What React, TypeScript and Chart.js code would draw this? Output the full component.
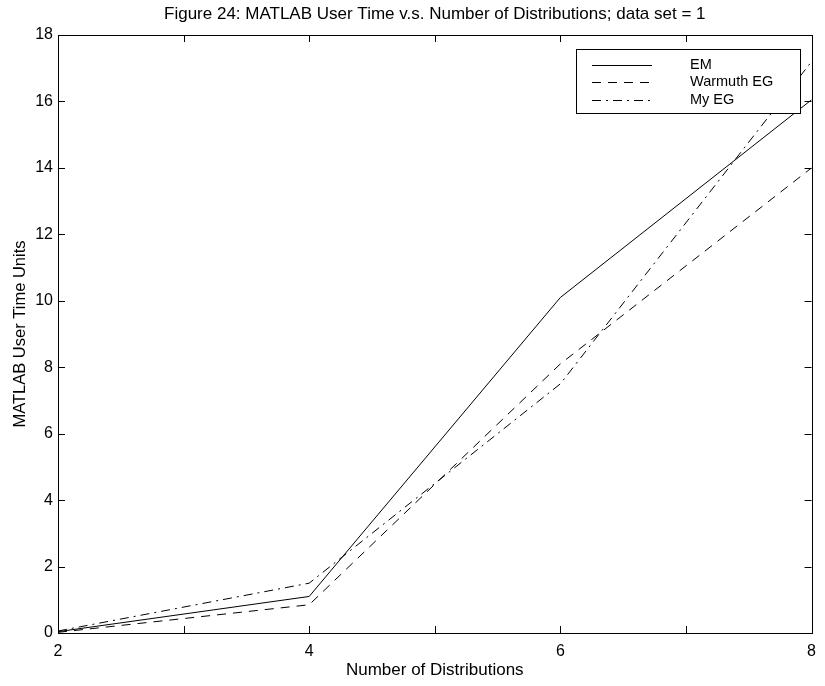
import React, { useEffect, useRef } from "react";
import { Chart, registerables } from "chart.js";

Chart.register(...registerables);

const xValues = [2, 4, 6, 8];
const emValues = [0.04, 1.1, 10.1, 16.05];
const warmuthValues = [0.02, 0.85, 8.1, 14.0];
const myEgValues = [0.06, 1.5, 7.5, 17.2];
const seriesNames = ["EM", "Warmuth EG", "My EG"];
const titleText = "Figure 24: MATLAB User Time v.s. Number of Distributions; data set = 1";
const xTitle = "Number of Distributions";
const yTitle = "MATLAB User Time Units";

const FONT = "'Liberation Sans', Arial, Helvetica, sans-serif";
const dashes = [[], [9, 7], [9, 5, 2, 5]];

const matlabPlugin = {
  id: "matlab",
  afterDraw(chart: any) {
    const ctx = chart.ctx;
    const { left, right, top, bottom } = chart.chartArea;
    const xs = chart.scales.x;
    const ys = chart.scales.y;
    ctx.save();
    ctx.strokeStyle = "#000";
    ctx.lineWidth = 1;
    ctx.setLineDash([]);
    // box
    ctx.strokeRect(Math.round(left) + 0.5, Math.round(top) + 0.5, Math.round(right - left), Math.round(bottom - top));
    const tl = 7;
    ctx.beginPath();
    xs.ticks.forEach((t: any) => {
      const px = Math.round(xs.getPixelForValue(t.value)) + 0.5;
      ctx.moveTo(px, bottom);
      ctx.lineTo(px, bottom - tl);
      ctx.moveTo(px, top);
      ctx.lineTo(px, top + tl);
    });
    ys.ticks.forEach((t: any) => {
      const py = Math.round(ys.getPixelForValue(t.value)) + 0.5;
      ctx.moveTo(left, py);
      ctx.lineTo(left + tl, py);
      ctx.moveTo(right, py);
      ctx.lineTo(right - tl, py);
    });
    ctx.stroke();
    // title
    ctx.fillStyle = "#000";
    ctx.font = "17px " + FONT;
    ctx.textAlign = "center";
    ctx.textBaseline = "middle";
    ctx.fillText(titleText, (left + right) / 2, 14);
    // legend
    const lx0 = 576, ly0 = 49, lx1 = 800, ly1 = 113;
    ctx.fillStyle = "#fff";
    ctx.fillRect(lx0, ly0, lx1 - lx0, ly1 - ly0);
    ctx.strokeRect(lx0 + 0.5, ly0 + 0.5, lx1 - lx0, ly1 - ly0);
    const rows = [65, 82, 100];
    ctx.font = "14.5px " + FONT;
    ctx.textAlign = "left";
    seriesNames.forEach((name, i) => {
      ctx.setLineDash(dashes[i]);
      ctx.beginPath();
      ctx.moveTo(592, rows[i] + 0.5);
      ctx.lineTo(652, rows[i] + 0.5);
      ctx.stroke();
      ctx.setLineDash([]);
      ctx.fillStyle = "#000";
      ctx.fillText(name, 690, rows[i]);
    });
    ctx.restore();
  },
};

export default function App() {
  const ref = useRef<HTMLCanvasElement | null>(null);
  useEffect(() => {
    document.body.style.margin = "0";
    document.body.style.background = "#fff";
    const mk = (vals: number[]) => xValues.map((x, i) => ({ x, y: vals[i] }));
    const allVals = [emValues, warmuthValues, myEgValues];
    const chart = new Chart(ref.current!, {
      type: "line",
      data: {
        datasets: seriesNames.map((name, i) => ({
          label: name,
          data: mk(allVals[i]),
          borderColor: "#000",
          borderWidth: 1,
          borderDash: dashes[i],
          pointRadius: 0,
          fill: false,
          tension: 0,
        })),
      },
      options: {
        responsive: false,
        animation: false,
        layout: { padding: { top: 35, right: 7, left: 0, bottom: 0 } },
        plugins: { legend: { display: false }, tooltip: { enabled: false }, title: { display: false } },
        scales: {
          x: {
            type: "linear",
            min: 2,
            max: 8,
            grid: { display: false, drawTicks: false },
            border: { display: false },
            ticks: {
              stepSize: 1,
              autoSkip: false,
              maxRotation: 0,
              padding: 9,
              color: "#000",
              font: { family: FONT, size: 16 },
              callback: (v: any) => (Number(v) % 2 === 0 ? String(v) : ""),
            },
            title: { display: true, text: xTitle, color: "#000", font: { family: FONT, size: 17 }, padding: { top: 0, bottom: 5 } },
            afterFit: (s: any) => { s.height = 53; },
          },
          y: {
            type: "linear",
            min: 0,
            max: 18,
            grid: { display: false, drawTicks: false },
            border: { display: false },
            ticks: {
              stepSize: 2,
              padding: 5,
              color: "#000",
              font: { family: FONT, size: 16 },
            },
            title: { display: true, text: yTitle, color: "#000", font: { family: FONT, size: 16.5 }, padding: { top: 11, bottom: 0 } },
            afterFit: (s: any) => { s.width = 58; },
          },
        },
      },
      plugins: [matlabPlugin],
    });
    return () => chart.destroy();
  }, []);
  return <canvas ref={ref} width={825} height={686} style={{ display: "block" }} />;
}
